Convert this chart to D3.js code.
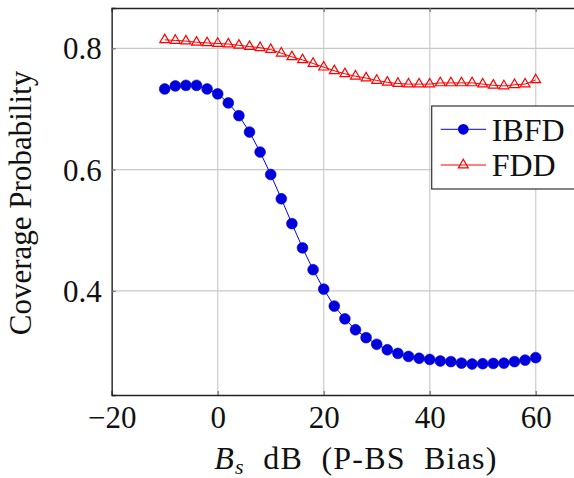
<!DOCTYPE html>
<html><head><meta charset="utf-8">
<script src="https://cdn.jsdelivr.net/npm/d3@7"></script>
<style>body{margin:0;background:#fff}svg{display:block}</style>
</head><body><svg id="c" width="574" height="478" font-family="Liberation Serif"></svg>
<script>
const xValues = [-10,-8,-6,-4,-2,0,2,4,6,8,10,12,14,16,18,20,22,24,26,28,30,32,34,36,38,40,42,44,46,48,50,52,54,56,58,60];
const ibfd = [0.733,0.738,0.739,0.739,0.733,0.725,0.710,0.689,0.662,0.629,0.592,0.552,0.511,0.471,0.435,0.403,0.375,0.354,0.336,0.323,0.312,0.303,0.297,0.292,0.289,0.287,0.2845,0.2835,0.281,0.2795,0.280,0.2805,0.281,0.2835,0.286,0.290];
const fdd = [0.814,0.813,0.812,0.810,0.809,0.808,0.807,0.805,0.803,0.801,0.798,0.792,0.786,0.781,0.775,0.769,0.763,0.758,0.754,0.751,0.747,0.744,0.742,0.741,0.741,0.741,0.743,0.743,0.743,0.743,0.741,0.739,0.738,0.740,0.741,0.748];
const xTicks = [-20,0,20,40,60];
const yTicks = [0.4,0.6,0.8];
const seriesNames = ["IBFD","FDD"];

const FF = "Liberation Serif";
const svg = d3.select("#c");
const L=111.7, R=588.7, T=8, B=395;
const x = d3.scaleLinear().domain([-20,70]).range([L,R]);
const y = d3.scaleLinear().domain([0.2284,0.8665]).range([B,T]);
const FS = 31;

// grid
const g = svg.append("g");
g.selectAll(".gx").data(xTicks).join("line")
 .attr("x1",d=>x(d)).attr("x2",d=>x(d)).attr("y1",T).attr("y2",B)
 .attr("stroke","#d3d3d3").attr("stroke-width",1.4);
g.selectAll(".gy").data(yTicks).join("line")
 .attr("y1",d=>y(d)).attr("y2",d=>y(d)).attr("x1",L).attr("x2",R)
 .attr("stroke","#c8c8c8").attr("stroke-width",1.2);

// axes via d3 axis (ticks inside)
const xa = svg.append("g").attr("transform",`translate(0,${B})`)
 .call(d3.axisBottom(x).tickValues(xTicks).tickSize(-4).tickPadding(11)
   .tickFormat(d=>d<0?"\u2212"+Math.abs(d):d));
const xaTop = svg.append("g").attr("transform",`translate(0,${T})`)
 .call(d3.axisTop(x).tickValues(xTicks).tickSize(-4).tickFormat(""));
const ya = svg.append("g").attr("transform",`translate(${L},0)`)
 .call(d3.axisLeft(y).tickValues(yTicks).tickSize(-4).tickPadding(10).tickFormat(d3.format(".1f")));
const yaR = svg.append("g").attr("transform",`translate(${R},0)`)
 .call(d3.axisRight(y).tickValues(yTicks).tickSize(-4).tickFormat(""));
[xa,xaTop,ya,yaR].forEach(a=>{
  a.attr("font-family",FF).attr("font-size",FS);
  a.select(".domain").attr("stroke","#222").attr("stroke-width",1.3);
  a.selectAll(".tick line").attr("stroke","#777").attr("stroke-width",1.3);
  a.selectAll("text").attr("fill","#111");
});
xa.selectAll("text").attr("dy","0.71em");
ya.selectAll("text").attr("dy","0.34em");

// lines
const line = d3.line().x((d,i)=>x(xValues[i])).y(d=>y(d));
svg.append("path").datum(ibfd).attr("d",line).attr("fill","none").attr("stroke","#0000ff").attr("stroke-width",1);
svg.append("path").datum(fdd).attr("d",line).attr("fill","none").attr("stroke","#ff0000").attr("stroke-width",1);

svg.append("g").selectAll("circle").data(ibfd).join("circle")
 .attr("cx",(d,i)=>x(xValues[i])).attr("cy",d=>y(d)).attr("r",5.4)
 .attr("fill","#0000dc").attr("stroke","#0000dc").attr("stroke-width",0.6);
const tri = d3.symbol().type(d3.symbolTriangle).size(42);
svg.append("g").selectAll("path").data(fdd).join("path")
 .attr("d",tri).attr("transform",(d,i)=>`translate(${x(xValues[i])},${y(d)})`)
 .attr("fill","none").attr("stroke","#ff0000").attr("stroke-width",1.2);

// axis labels
svg.append("text").attr("x",356).attr("y",469).attr("text-anchor","middle")
 .attr("font-family",FF).attr("font-size",32).attr("fill","#111").attr("letter-spacing",1.2)
 .html('<tspan font-style="italic">B</tspan><tspan font-style="italic" font-size="22" dy="5">s</tspan><tspan dy="-5" xml:space="preserve">  dB  (P-BS  Bias)</tspan>');
svg.append("text").attr("transform","translate(31,203) rotate(-90)").attr("text-anchor","middle")
 .attr("font-family",FF).attr("font-size",FS).attr("fill","#111").text("Coverage Probability");

// legend
const lg = svg.append("g");
lg.append("rect").attr("x",431.7).attr("y",106).attr("width",150).attr("height",83)
 .attr("fill","#fff").attr("stroke","#333").attr("stroke-width",1.2);
const ly = [129.3,165];
lg.append("line").attr("x1",440.7).attr("x2",486).attr("y1",ly[0]).attr("y2",ly[0]).attr("stroke","#0000ff");
lg.append("circle").attr("cx",463.3).attr("cy",ly[0]).attr("r",5.4).attr("fill","#0000dc");
lg.append("line").attr("x1",440.7).attr("x2",486).attr("y1",ly[1]).attr("y2",ly[1]).attr("stroke","#ff0000");
lg.append("path").attr("d",tri).attr("transform",`translate(463.3,${ly[1]})`).attr("fill","none").attr("stroke","#ff0000").attr("stroke-width",1.2);
lg.selectAll("text").data(seriesNames).join("text")
 .attr("x",491.7).attr("y",(d,i)=>ly[i]).attr("dy","0.35em")
 .attr("font-family",FF).attr("font-size",32).attr("fill","#111").text(d=>d);
</script></body></html>
